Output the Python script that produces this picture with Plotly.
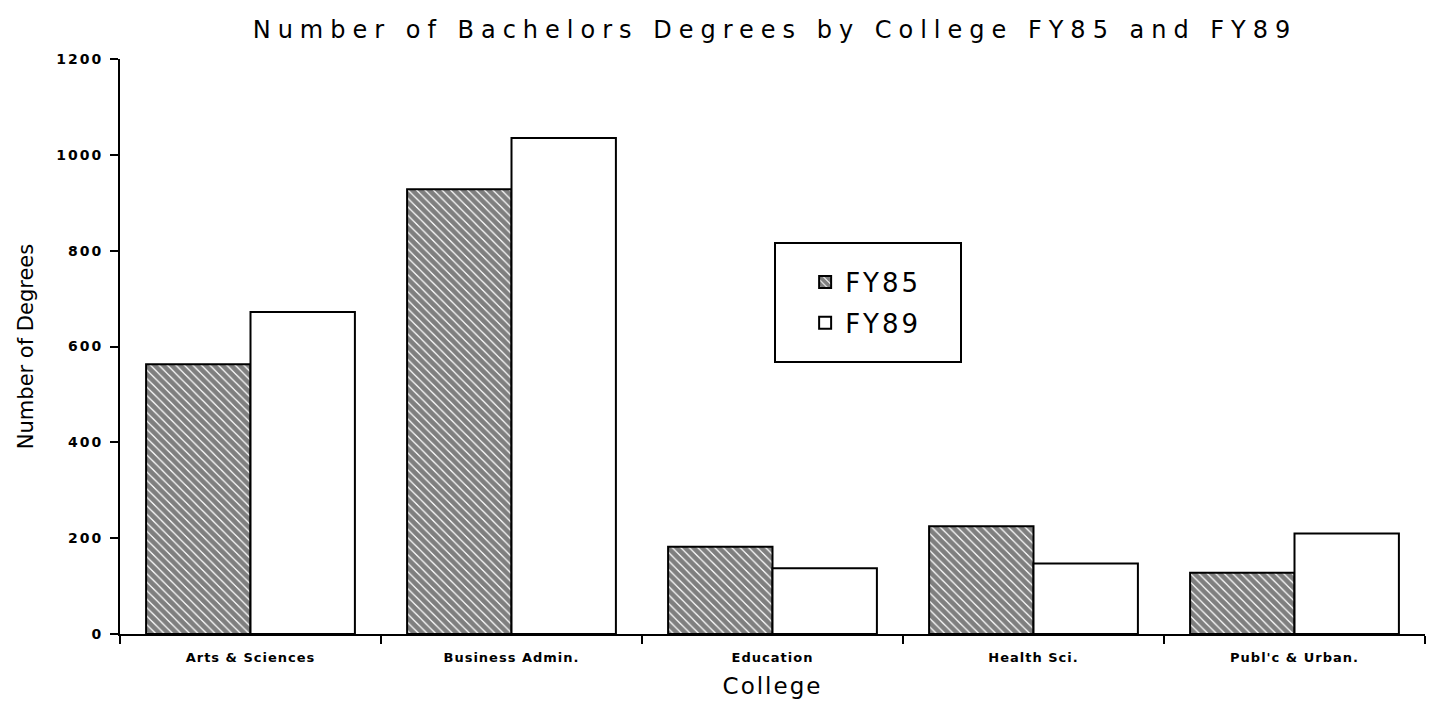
import plotly.graph_objects as go

colleges = ["Arts & Sciences", "Business Admin.", "Education", "Health Sci.", "Publ'c & Urban."]
fy85 = [563, 928, 182, 225, 128]
fy89 = [672, 1035, 137, 147, 210]
y_ticks = [0, 200, 400, 600, 800, 1000, 1200]

FONT = "DejaVu Sans"

def spaced(t, px):
    return "<span style='letter-spacing:%dpx'>%s</span>" % (px, t)

fig = go.Figure()
fig.add_trace(go.Bar(
    x=colleges, y=fy85, name=spaced("FY85", 3), legendgroup="a",
    marker=dict(color="white", line=dict(color="black", width=2),
                pattern=dict(shape="\\", fgcolor="black", bgcolor="white", size=6, solidity=0.8)),
))
fig.add_trace(go.Bar(
    x=colleges, y=fy89, name=spaced("FY89", 3), legendgroup="b",
    marker=dict(color="white", line=dict(color="black", width=2)),
))

# page body has an 8px margin, so plot area 120..1425 x 59..634 on screen
L, T = 112, 51
PW, PH = 1305, 575
fig.update_layout(
    width=1438, height=707,
    paper_bgcolor="white", plot_bgcolor="white",
    margin=dict(l=L, r=1438 - L - PW, t=T, b=707 - T - PH, autoexpand=False),
    barmode="group", bargap=0.2, bargroupgap=0,
    title=dict(text=spaced("Number of Bachelors Degrees by College FY85 and FY89", 7),
               x=(775 - 8) / 1438, xanchor="center", y=1 - 22 / 707, yanchor="middle",
               font=dict(family=FONT, size=24, color="black")),
    legend=dict(x=0.525, y=0.653, xanchor="left", yanchor="top",
                bgcolor="rgba(0,0,0,0)", borderwidth=0,
                font=dict(family=FONT, size=26, color="black"),
                itemsizing="constant", tracegroupgap=4, itemwidth=30),
    font=dict(family=FONT, color="black"),
    showlegend=True,
    shapes=[dict(type="rect", xref="paper", yref="paper",
                 x0=(775 - 120) / PW, x1=(961 - 120) / PW,
                 y0=(634 - 362) / PH, y1=(634 - 243) / PH,
                 line=dict(color="black", width=2), fillcolor="rgba(0,0,0,0)", layer="below")],
)
fig.update_xaxes(
    range=[-0.5, 4.5], showline=True, linecolor="black", linewidth=2, automargin=False,
    tickmode="array", tickvals=colleges, ticktext=[spaced(c, 1) for c in colleges],
    ticks="outside", tickson="boundaries", ticklen=8, tickcolor="black", tickwidth=2,
    ticklabelstandoff=10,
    showgrid=False, tickfont=dict(family=FONT, size=13, color="black", weight="bold"),
    title=dict(text=spaced("College", 2),
               font=dict(family=FONT, size=23, color="black"), standoff=14),
)
fig.update_yaxes(
    range=[0, 1200], tickmode="array", tickvals=y_ticks, ticktext=[spaced(str(v), 2) for v in y_ticks],
    showline=True, linecolor="black", linewidth=2, automargin=False,
    ticks="outside", ticklen=8, tickcolor="black", tickwidth=2, ticklabelstandoff=4,
    showgrid=False, zeroline=False, tickfont=dict(family=FONT, size=14, color="black", weight="bold"),
    title=dict(text="Number of Degrees", font=dict(family=FONT, size=21, color="black"), standoff=17),
)

fig.write_html("out.html")
